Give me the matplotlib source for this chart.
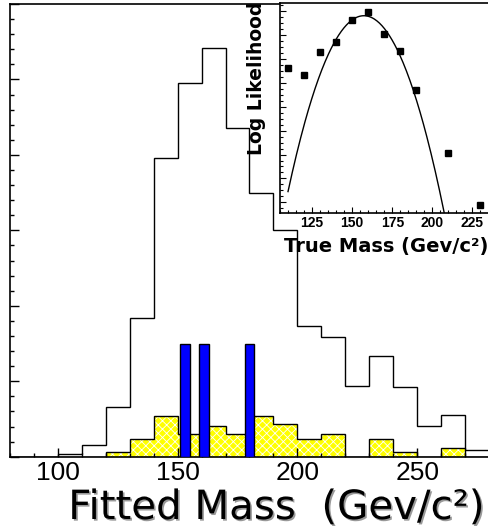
"""
Fitted mass histogram with likelihood inset
"""

import matplotlib
matplotlib.use('Agg')
import matplotlib.pyplot as plt
import matplotlib.patheffects as pe
from matplotlib.ticker import MultipleLocator
import numpy as np

# fitted mass histogram, 10 GeV bins from 80 to 280
bin_edges = np.arange(80, 290, 10)
all_events = [0, 0, 0.3, 1.6, 6.6, 18.4, 39.6, 49.5, 54.2, 43.5,
              34.9, 30.1, 17.3, 15.8, 9.4, 13.3, 9.2, 4.1, 5.5, 0.9]
sel_events = [0, 0, 0, 0, 0.6, 2.4, 5.4, 3.0, 4.1, 3.0,
              5.4, 4.4, 2.35, 3.0, 0, 2.35, 0.6, 0, 1.2, 0]

# candidate events
cand_mass = [153, 161, 180]
cand_height = [15, 15, 15]
cand_width = 4

# likelihood scan
true_mass = [110, 120, 130, 140, 150, 160, 170, 180, 190, 210, 230]
log_like = [5.61, 5.31, 6.28, 6.72, 7.63, 7.95, 7.05, 6.33, 4.70, 2.06, -0.11]

# parabola fit
fit_mass = 157.3
fit_peak = 7.81
fit_curv = 0.00329
fit_range = (110, 215)

W, H = 489, 531
fig = plt.figure(figsize=(W / 100, H / 100), dpi=100)

ax = fig.add_axes([10 / W, (H - 456.7) / H, 479 / W, 452.7 / H])
ax.stairs(all_events, bin_edges, color='black', lw=1.0)
plt.rcParams['hatch.linewidth'] = 0.6
ax.stairs(sel_events, bin_edges, fill=True, facecolor='#ffff00',
          edgecolor='white', hatch='xxxx', lw=0)
ax.stairs(sel_events, bin_edges, color='black', lw=1.0, baseline=None)
ax.bar(cand_mass, cand_height, width=cand_width, color='#0000ff',
       edgecolor='black', lw=1.0, zorder=3)

ax.set_xlim(80, 280)
ax.set_ylim(0, 60)
ax.xaxis.set_major_locator(MultipleLocator(50))
ax.xaxis.set_minor_locator(MultipleLocator(10))
ax.yaxis.set_major_locator(MultipleLocator(10))
ax.yaxis.set_minor_locator(MultipleLocator(2))
ax.tick_params(which='both', direction='in', top=False, right=False,
               labelleft=False, width=1.0)
ax.tick_params(which='major', length=6.5)
ax.tick_params(which='minor', length=3.2)
ax.tick_params(axis='x', pad=3, labelsize=19)
for lab in ax.get_xticklabels():
  lab.set_family('Liberation Sans')
ax.spines['right'].set_visible(False)
for s in ['left', 'bottom', 'top']:
  ax.spines[s].set_linewidth(1.2)

fig.text(484 / W, (H - 519) / H, 'Fitted Mass  (Gev/c²)', fontsize=29,
         ha='right', va='baseline', color='black',
         path_effects=[pe.withSimplePatchShadow(offset=(1.2, -1.2),
                                                 shadow_rgbFace='0.5',
                                                 alpha=0.8)])

# inset
ins = fig.add_axes([280 / W, (H - 213.3) / H, 209 / W, 210 / H])
ins.set_facecolor('white')
xs = np.linspace(fit_range[0], fit_range[1], 200)
ins.plot(xs, fit_peak - fit_curv * (xs - fit_mass) ** 2, color='black', lw=1.0)
ins.plot(true_mass, log_like, 's', color='black', markersize=4.3)
ins.set_xlim(105, 235.3)
ins.set_ylim(-0.46, 8.33)
ins.xaxis.set_major_locator(MultipleLocator(25))
ins.xaxis.set_minor_locator(MultipleLocator(5))
ins.yaxis.set_major_locator(MultipleLocator(1))
ins.yaxis.set_minor_locator(MultipleLocator(0.25))
ins.tick_params(which='both', direction='in', top=False, right=False,
                labelleft=False, width=0.8)
ins.tick_params(which='major', length=4.5)
ins.tick_params(which='minor', length=2.2)
ins.tick_params(axis='x', pad=2, labelsize=10)
for lab in ins.get_xticklabels():
  lab.set_family('Liberation Sans')
  lab.set_weight('bold')
ins.spines['right'].set_visible(False)
for s in ['left', 'bottom', 'top']:
  ins.spines[s].set_linewidth(1.2)

fig.text(488 / W, (H - 251.7) / H, 'True Mass (Gev/c²)', fontsize=14,
         fontweight='bold', ha='right', va='baseline')
fig.text(257 / W, (H - 2) / H, 'Log Likelihood', fontsize=13.5,
         fontweight='bold', rotation=90, ha='center', va='top')

fig.savefig('out.png', dpi=100)
